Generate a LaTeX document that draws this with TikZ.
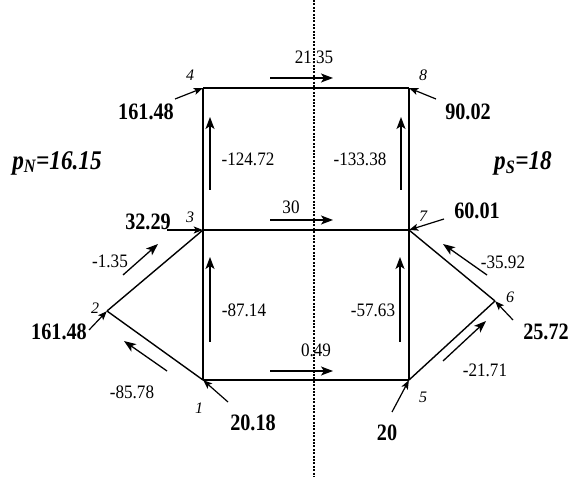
\documentclass[tikz,border=0pt]{standalone}
\usepackage{fontspec}
\setmainfont{Liberation Serif}
\newfontfamily\condfont[FakeStretch=0.86]{Liberation Serif}
\newfontfamily\flowfont[FakeStretch=0.9]{Liberation Serif}
\usetikzlibrary{arrows.meta}
\begin{document}
\begin{tikzpicture}[x=1pt,y=-1pt,
  branch/.style={line width=1.4pt},
  midbranch/.style={line width=2.4pt},
  flow/.style={line width=1.3pt,-{Stealth[length=12pt,width=9pt,inset=3pt]}},
  inj/.style={line width=1.2pt,-{Stealth[length=9pt,width=7pt,inset=2pt]}},
  flowlab/.style={inner sep=0pt,font=\flowfont\fontsize{19}{19}\selectfont},
  injlab/.style={inner sep=0pt,font=\condfont\bfseries\fontsize{23.5}{23.5}\selectfont},
  numlab/.style={inner sep=0pt,font=\itshape\fontsize{16}{16}\selectfont},
  plab/.style={inner sep=0pt,font=\condfont\bfseries\itshape\fontsize{27}{27}\selectfont},
  bus/.style={inner sep=0pt,minimum size=0pt}]
\useasboundingbox (0,0) rectangle (571,478);
% dotted separation line
\coordinate (dtop) at (314,0);
\coordinate (dbot) at (314,477);
\draw[line width=2.1pt,dash pattern=on 2pt off 1.4pt] (dtop) -- (dbot);
% buses
\node[bus] (n1) at (203,380) {};
\node[bus] (n2) at (107,311) {};
\node[bus] (n3) at (203,230) {};
\node[bus] (n4) at (203,88) {};
\node[bus] (n5) at (409,380) {};
\node[bus] (n6) at (495,301) {};
\node[bus] (n7) at (409,230) {};
\node[bus] (n8) at (409,88) {};
% branches
\draw[branch] (n4.center) -- (n8.center);
\draw[branch] (n4.center) -- (n3.center);
\draw[branch] (n8.center) -- (n7.center);
\draw[midbranch] (n3.center) -- (n7.center);
\draw[branch] (n3.center) -- (n1.center);
\draw[branch] (n7.center) -- (n5.center);
\draw[branch] (n1.center) -- (n5.center);
\draw[branch] (n3.center) -- (n2.center);
\draw[branch] (n2.center) -- (n1.center);
\draw[branch] (n7.center) -- (n6.center);
\draw[branch] (n6.center) -- (n5.center);
% bus numbers
\node[numlab] (k4) at (190,75) {4};
\node[numlab] (k8) at (423,75) {8};
\node[numlab] (k3) at (190,217) {3};
\node[numlab] (k7) at (423,216) {7};
\node[numlab] (k2) at (95,308) {2};
\node[numlab] (k1) at (199,408) {1};
\node[numlab] (k5) at (423,397) {5};
\node[numlab] (k6) at (510,297) {6};
% flow arrows
\coordinate (f48a) at (270,78); \coordinate (f48b) at (333,78);
\draw[flow] (f48a) -- (f48b);
\node[flowlab] (l48) at (314,57) {21.35};
\coordinate (f37a) at (270,220); \coordinate (f37b) at (333,220);
\draw[flow] (f37a) -- (f37b);
\node[flowlab] (l37) at (291,207) {30};
\coordinate (f15a) at (270,371); \coordinate (f15b) at (333,371);
\draw[flow] (f15a) -- (f15b);
\node[flowlab] (l15) at (316,350) {0.49};
\coordinate (f34a) at (210,190); \coordinate (f34b) at (210,117);
\draw[flow] (f34a) -- (f34b);
\node[flowlab] (l34) at (248,159) {-124.72};
\coordinate (f78a) at (401,190); \coordinate (f78b) at (401,117);
\draw[flow] (f78a) -- (f78b);
\node[flowlab] (l78) at (360,159) {-133.38};
\coordinate (f13a) at (210,342); \coordinate (f13b) at (210,257);
\draw[flow] (f13a) -- (f13b);
\node[flowlab] (l13) at (244,310) {-87.14};
\coordinate (f57a) at (400,342); \coordinate (f57b) at (400,257);
\draw[flow] (f57a) -- (f57b);
\node[flowlab] (l57) at (373,310) {-57.63};
\coordinate (f23a) at (123,275); \coordinate (f23b) at (158,244);
\draw[flow] (f23a) -- (f23b);
\node[flowlab] (l23) at (110,261) {-1.35};
\coordinate (f12a) at (167,371); \coordinate (f12b) at (124,341);
\draw[flow] (f12a) -- (f12b);
\node[flowlab] (l12) at (132,392) {-85.78};
\coordinate (f67a) at (487,275); \coordinate (f67b) at (443,244);
\draw[flow] (f67a) -- (f67b);
\node[flowlab] (l67) at (503,262) {-35.92};
\coordinate (f56a) at (443,361); \coordinate (f56b) at (486,321);
\draw[flow] (f56a) -- (f56b);
\node[flowlab] (l56) at (485,370) {-21.71};
% injections
\coordinate (i4) at (175,99);
\draw[inj] (i4) -- (n4);
\node[injlab] (v4) at (146,112) {161.48};
\coordinate (i8) at (436,99);
\draw[inj] (i8) -- (n8);
\node[injlab] (v8) at (468,112) {90.02};
\coordinate (i3) at (167,230);
\draw[inj] (i3) -- (n3);
\node[injlab] (v3) at (148,222) {32.29};
\coordinate (i7) at (444,219);
\draw[inj] (i7) -- (n7);
\node[injlab] (v7) at (477,211) {60.01};
\coordinate (i2) at (89,330);
\draw[inj] (i2) -- (n2);
\node[injlab] (v2) at (59,332) {161.48};
\coordinate (i1) at (228,402);
\draw[inj] (i1) -- (n1);
\node[injlab] (v1) at (253,423) {20.18};
\coordinate (i5) at (392,412);
\draw[inj] (i5) -- (n5);
\node[injlab] (v5) at (387,433) {20};
\coordinate (i6) at (513,320);
\draw[inj] (i6) -- (n6);
\node[injlab] (v6) at (546,332) {25.72};
% prices
\node[plab] (pN) at (57,163) {p\textsubscript{N}=16.15};
\node[plab] (pS) at (523,163) {p\textsubscript{S}=18};
\end{tikzpicture}
\end{document}
